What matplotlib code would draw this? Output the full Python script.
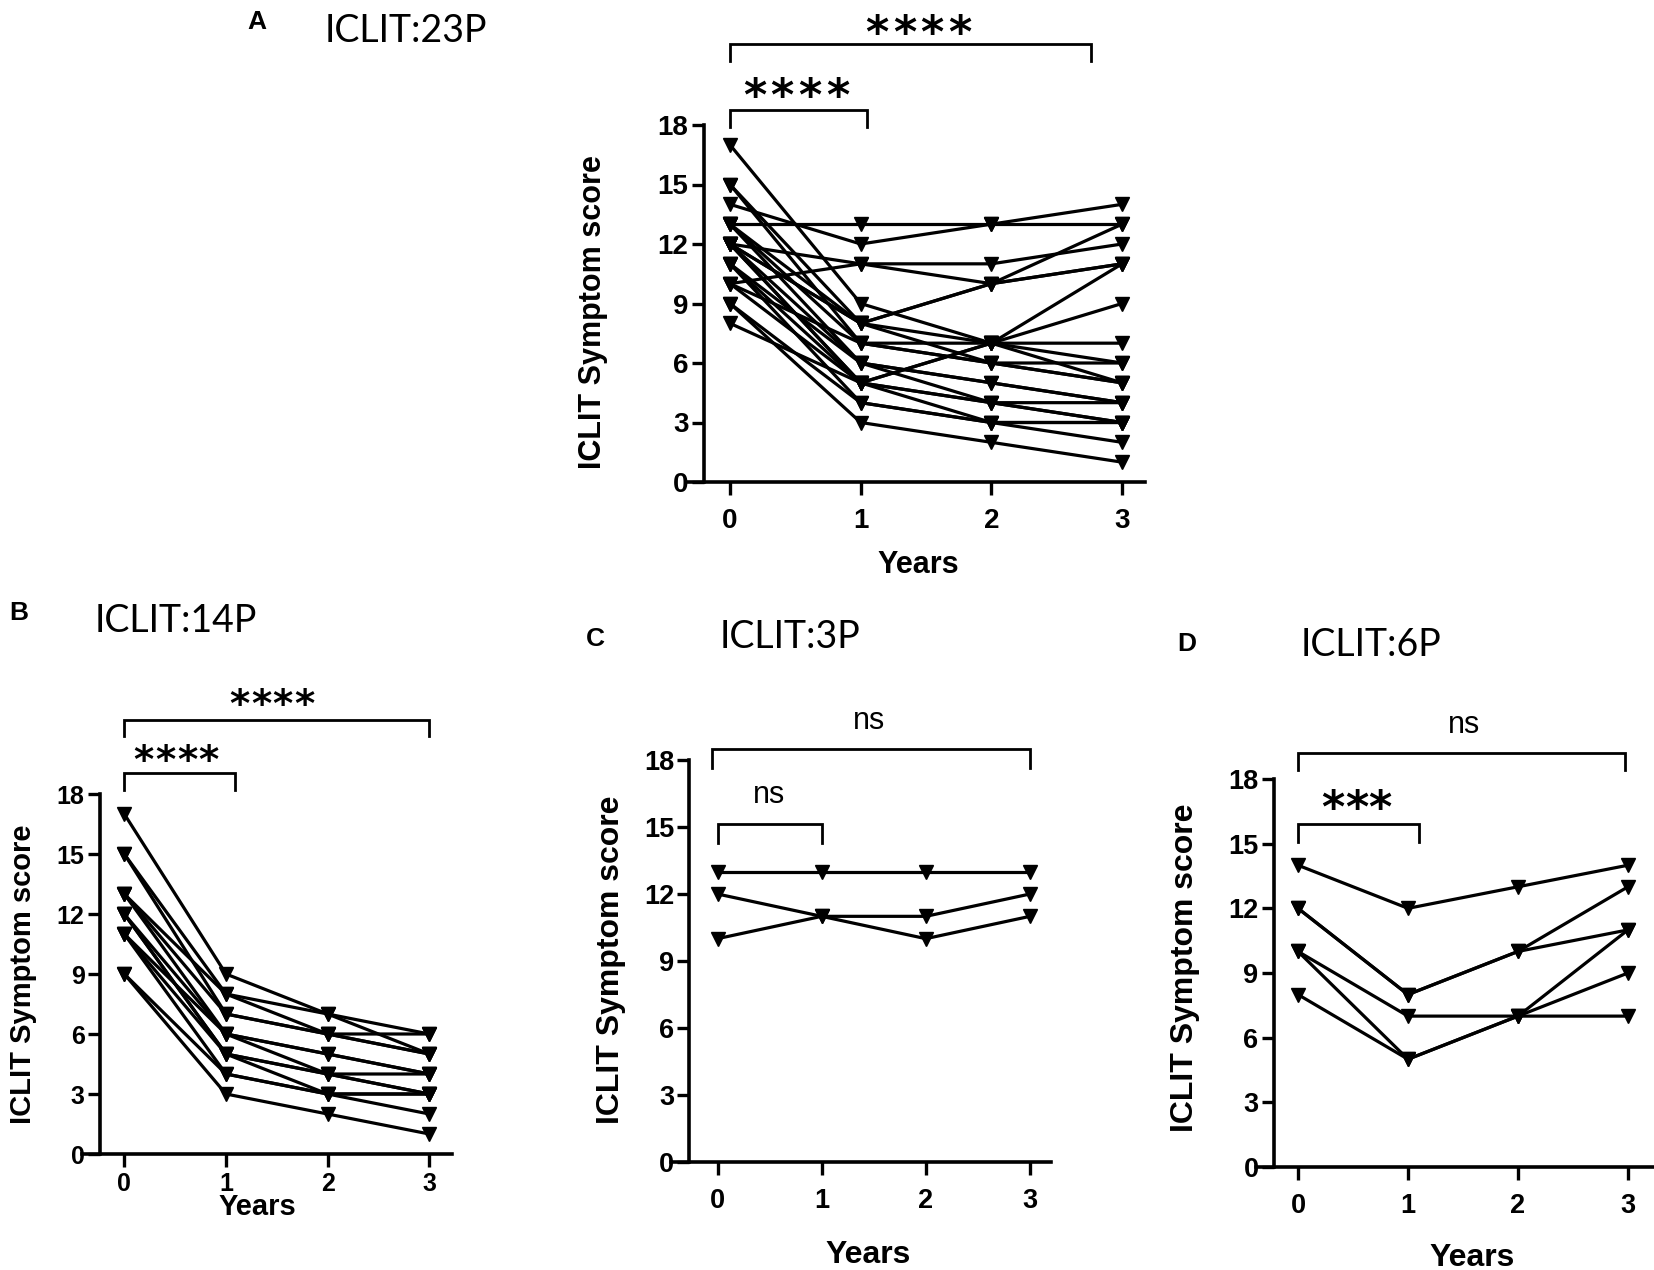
import matplotlib.pyplot as plt

# time points
years = [0, 1, 2, 3]
year_ticks = [0, 1, 2, 3]
score_ticks = [0, 3, 6, 9, 12, 15, 18]

# ICLIT:14P  (one row per patient: year 0, 1, 2, 3)
scores_14p = [
    [17, 9, 7, 6],
    [15, 8, 7, 5],
    [15, 7, 6, 5],
    [13, 8, 6, 6],
    [13, 6, 5, 4],
    [13, 7, 6, 5],
    [12, 6, 4, 4],
    [12, 5, 4, 3],
    [12, 5, 4, 3],
    [11, 5, 3, 3],
    [11, 4, 3, 2],
    [11, 6, 5, 4],
    [9, 4, 3, 3],
    [9, 3, 2, 1],
]

# ICLIT:3P
scores_3p = [
    [13, 13, 13, 13],
    [12, 11, 11, 12],
    [10, 11, 10, 11],
]

# ICLIT:6P
scores_6p = [
    [14, 12, 13, 14],
    [12, 8, 10, 13],
    [12, 8, 10, 11],
    [10, 7, 7, 7],
    [10, 5, 7, 11],
    [8, 5, 7, 9],
]

# ICLIT:23P is all patients together
scores_23p = scores_14p + scores_3p + scores_6p

W, H = 1654, 1270
fig = plt.figure(figsize=(W / 100, H / 100), dpi=100)

BOLD = "Liberation Sans"


def make_axes(year0_px, px_per_year, xlim, top, bottom):
    left = year0_px + xlim[0] * px_per_year
    right = year0_px + xlim[1] * px_per_year
    ax = fig.add_axes([left / W, 1 - bottom / H, (right - left) / W, (bottom - top) / H])
    ax.set_xlim(*xlim)
    return ax


def draw_panel(ax, data, yaxis_x, ms, tick_fs, label_fs, xlabel_pos, ylabel_pos, xpad=10):
    for row in data:
        ax.plot(years, row, color="black", lw=2.3, marker="v", ms=ms,
                mec="black", mfc="black", clip_on=False, zorder=3)
    ax.set_ylim(0, 18)
    ax.spines["left"].set_position(("data", yaxis_x))
    ax.spines["top"].set_visible(False)
    ax.spines["right"].set_visible(False)
    for s in ("left", "bottom"):
        ax.spines[s].set_linewidth(2.6)
    ax.set_xticks(year_ticks)
    ax.set_yticks(score_ticks)
    ax.tick_params(axis="both", length=9, width=2.4, direction="out")
    ax.tick_params(axis="y", pad=2)
    ax.tick_params(axis="x", pad=xpad)
    for lab in ax.get_xticklabels() + ax.get_yticklabels():
        lab.set_fontfamily(BOLD)
        lab.set_fontweight("bold")
        lab.set_fontsize(tick_fs)
    ax.set_xlabel("Years", fontfamily=BOLD, fontweight="bold", fontsize=label_fs)
    ax.xaxis.set_label_coords(*xlabel_pos)
    ax.xaxis.label.set_va("baseline")
    ax.set_ylabel("ICLIT Symptom score", fontfamily=BOLD, fontweight="bold", fontsize=label_fs)
    ax.yaxis.set_label_coords(*ylabel_pos)
    ax.yaxis.label.set_va("center")


def bracket(ax, x0, x1, y, drop):
    ax.plot([x0, x0, x1, x1], [y - drop, y, y, y - drop], color="black",
            lw=2.0, clip_on=False, solid_joinstyle="miter")


def stars(ax, n, x, y, fs, pitch):
    for i in range(n):
        off = (i - (n - 1) / 2) * pitch
        ax.annotate("*", (x, y), xytext=(off, -0.59 * fs), textcoords="offset points",
                    ha="center", va="baseline", fontsize=fs, fontweight="bold",
                    family="DejaVu Sans", annotation_clip=False)


def ns(ax, x, y, fs):
    ax.annotate("ns", (x, y), xytext=(0, -0.26 * fs), textcoords="offset points",
                ha="center", va="baseline", fontsize=fs, family=BOLD,
                annotation_clip=False)


# ---- panel A ----
axA = make_axes(730, 130.7, (-0.338, 3.175), 125, 482)
draw_panel(axA, scores_23p, -0.2, 10, 20, 22,
           (0.506, -0.255), (-0.203, 0.476))
bracket(axA, 0, 2.76, 22.09, 0.86)
bracket(axA, 0, 1.05, 18.76, 0.86)
stars(axA, 4, 1.44, 23.25, 32, 20)
stars(axA, 4, 0.505, 20.07, 32, 20)

# ---- panel B ----
axB = make_axes(124.3, 101.67, (-0.417, 3.22), 794, 1154)
draw_panel(axB, scores_14p, -0.24, 9.5, 18, 21,
           (0.475, -0.17), (-0.159, 0.5), xpad=4)
bracket(axB, 0, 3, 21.7, 0.8)
bracket(axB, 0, 1.09, 19.05, 0.85)
stars(axB, 4, 1.45, 23.0, 28, 15.5)
stars(axB, 4, 0.51, 20.2, 28, 15.5)

# ---- panel C ----
axC = make_axes(717.5, 104.17, (-0.443, 3.206), 760, 1162)
draw_panel(axC, scores_3p, -0.27, 10, 19.5, 23,
           (0.519, -0.252), (-0.158, 0.502))
bracket(axC, -0.055, 3.0, 18.48, 0.85)
bracket(axC, 0, 1.0, 15.14, 0.87)
ns(axC, 1.46, 19.75, 22)
ns(axC, 0.495, 16.43, 22)

# ---- panel D ----
axD = make_axes(1298, 110, (-0.384, 3.227), 779, 1167)
draw_panel(axD, scores_6p, -0.22, 10, 19.5, 23,
           (0.544, -0.255), (-0.178, 0.514))
bracket(axD, 0, 2.97, 19.22, 0.81)
bracket(axD, 0, 1.10, 15.91, 0.82)
ns(axD, 1.51, 20.5, 22)
stars(axD, 3, 0.53, 17.2, 32, 17)


# ---- panel letters and titles ----
def fig_text(x, y, s, **kw):
    fig.text(x / W, 1 - y / H, s, va="baseline", ha="left", **kw)


for letter, x, y in [("A", 247, 29), ("B", 9, 620), ("C", 586, 646), ("D", 1177, 651)]:
    fig_text(x, y, letter, fontsize=19, fontweight="bold", family=BOLD)

for title, x, y in [("ICLIT:23P", 325, 42), ("ICLIT:14P", 95, 632),
                    ("ICLIT:3P", 720, 648), ("ICLIT:6P", 1301, 656)]:
    fig_text(x, y, title, fontsize=27, family="Lato")

fig.savefig("out.png", dpi=100)
